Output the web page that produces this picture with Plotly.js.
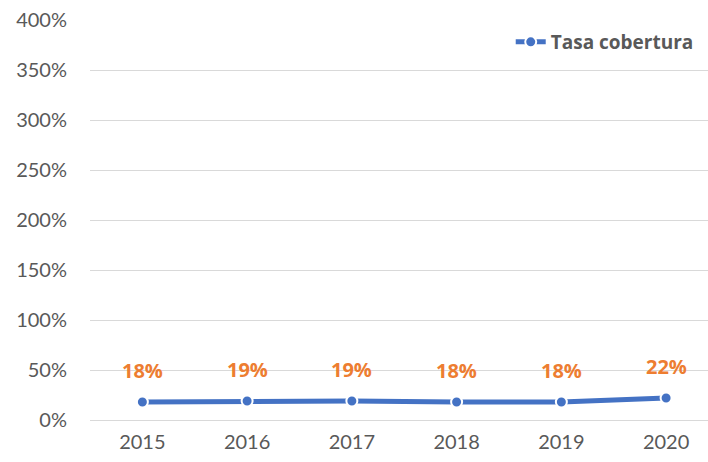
<!DOCTYPE html>
<html>
<head>
<meta charset="utf-8">
<script src="https://cdn.plot.ly/plotly-3.0.1.min.js"></script>
<style>html,body{margin:0;padding:0;background:#fff;}#chart{width:708px;height:462px;}</style>
</head>
<body>
<div id="chart"></div>
<script>
const years = ["2015", "2016", "2017", "2018", "2019", "2020"];
const tasaCobertura = [0.18, 0.19, 0.19, 0.18, 0.18, 0.22];
const seriesName = "Tasa cobertura";
const yTickVals = [0, 0.5, 1, 1.5, 2, 2.5, 3, 3.5, 4];
const yTickText = ["0%", "50%", "100%", "150%", "200%", "250%", "300%", "350%", "400%"];

const fontFam = "Lato, 'Open Sans', sans-serif";
const boldFam = "'Open Sans', Lato, sans-serif";

const trace = {
  x: years,
  y: tasaCobertura,
  type: "scatter",
  mode: "lines+markers",
  name: seriesName,
  line: {color: "#4472C4", width: 5},
  marker: {color: "#4472C4", size: 11, line: {color: "#ffffff", width: 2}},
  hoverinfo: "skip"
};

// category axis: annotation x given as category index
const annotations = years.map((yr, i) => ({
  x: i, y: tasaCobertura[i], xref: "x", yref: "y",
  text: Math.round(tasaCobertura[i] * 100) + "%",
  showarrow: false, yshift: 32,
  font: {family: boldFam, size: 20, color: "#ED7D31", weight: 700}
}));

const layout = {
  width: 708, height: 462,
  margin: {l: 90, r: 0, t: 20, b: 42},
  paper_bgcolor: "#ffffff", plot_bgcolor: "#ffffff",
  showlegend: true,
  legend: {
    x: 0.985, y: 0.945, xanchor: "right", yanchor: "middle",
    font: {family: boldFam, size: 19, color: "#595959", weight: 700},
    bgcolor: "rgba(0,0,0,0)"
  },
  xaxis: {
    type: "category",
    range: [-0.5, 5.4],
    showgrid: false, zeroline: false,
    showline: false, ticks: "",
    ticklabelstandoff: 8,
    tickfont: {family: fontFam, size: 20, color: "#595959"},
    fixedrange: true
  },
  yaxis: {
    range: [0, 4],
    tickvals: yTickVals, ticktext: yTickText,
    showgrid: true, gridcolor: "#d9d9d9", gridwidth: 1,
    zeroline: true, zerolinecolor: "#d9d9d9", zerolinewidth: 1,
    showline: false, ticks: "",
    ticklabelstandoff: 22,
    tickfont: {family: fontFam, size: 20, color: "#595959"},
    fixedrange: true
  },
  annotations: annotations
};

Plotly.newPlot("chart", [trace], layout, {displayModeBar: false, staticPlot: true});
</script>
</body>
</html>
